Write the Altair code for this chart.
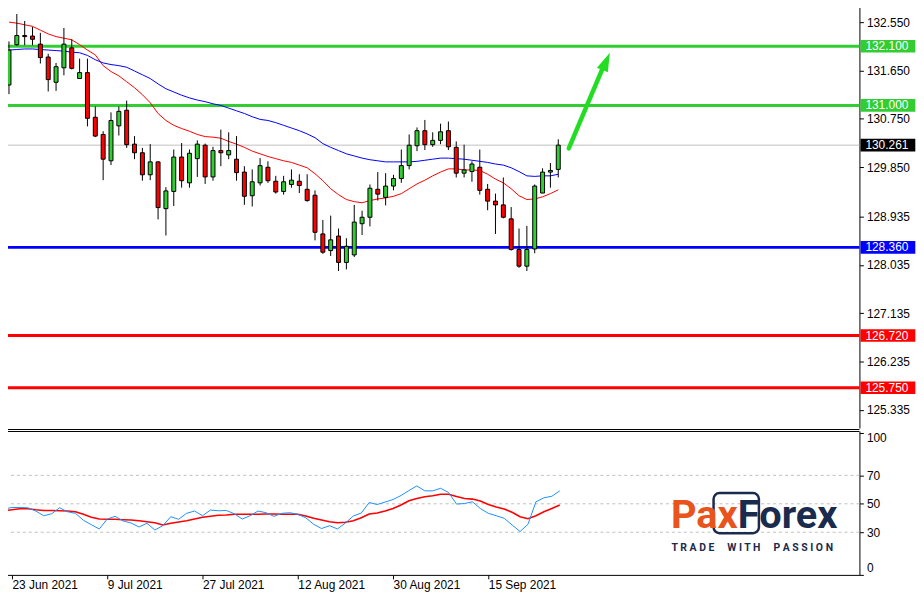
import altair as alt
import pandas as pd

# ---------------- data ----------------
open_ = [131.38, 132.13, 132.30, 132.29, 132.14, 131.90, 131.43, 131.70, 132.07, 131.50,
         131.61, 130.78, 130.46, 129.97, 130.62, 130.91, 130.28, 130.12, 129.71, 129.95,
         129.08, 129.40, 130.04, 129.56, 130.01, 130.26, 129.67, 130.16, 130.08, 130.00,
         129.76, 129.32, 129.56, 129.85, 129.59, 129.40, 129.53, 129.59, 129.44, 129.33,
         128.61, 128.30, 128.57, 128.08, 128.22, 128.80, 128.92, 129.44, 129.29, 129.50,
         129.64, 129.88, 130.25, 130.53, 130.27, 130.35, 130.53, 130.22, 129.74, 129.77,
         129.85, 129.44, 129.22, 129.15, 128.89, 128.32, 128.01, 128.33, 129.37, 129.76,
         129.81]
high = [132.19, 132.70, 132.57, 132.46, 132.35, 131.96, 131.79, 132.44, 132.23, 131.87,
        131.87, 130.98, 130.52, 130.87, 130.98, 131.09, 130.43, 130.21, 130.28, 129.96,
        129.48, 130.18, 130.30, 130.18, 130.35, 130.29, 130.23, 130.55, 130.50, 130.43,
        129.87, 129.81, 130.02, 129.96, 129.69, 129.69, 129.81, 129.72, 129.72, 129.42,
        128.87, 128.95, 128.71, 128.53, 129.15, 129.04, 129.53, 129.76, 129.74, 129.71,
        130.18, 130.46, 130.59, 130.73, 130.50, 130.66, 130.70, 130.33, 130.27, 129.96,
        130.18, 129.54, 129.36, 129.66, 129.11, 128.71, 128.76, 129.53, 129.83, 129.93,
        130.37]
low = [131.21, 132.11, 132.12, 132.12, 131.78, 131.26, 131.27, 131.56, 131.67, 131.50,
       130.61, 130.41, 129.61, 129.89, 130.44, 130.21, 130.00, 129.60, 129.61, 128.88,
       128.58, 129.13, 129.47, 129.47, 129.67, 129.54, 129.60, 129.87, 130.00, 129.60,
       129.15, 129.12, 129.51, 129.56, 129.36, 129.34, 129.47, 129.37, 129.21, 128.49,
       128.24, 128.20, 127.92, 127.95, 128.18, 128.59, 128.75, 129.23, 129.14, 129.42,
       129.56, 129.81, 130.15, 130.17, 130.23, 130.28, 130.17, 129.66, 129.66, 129.58,
       129.34, 129.05, 128.61, 128.90, 128.30, 127.98, 127.92, 128.25, 129.37, 129.47,
       129.66]
close = [132.03, 132.30, 132.28, 132.23, 131.89, 131.48, 131.72, 132.14, 131.69, 131.61,
         130.76, 130.43, 130.00, 130.72, 130.89, 130.27, 130.12, 129.71, 129.95, 129.10,
         129.41, 130.04, 129.60, 130.11, 130.28, 129.67, 130.16, 130.12, 130.16, 129.75,
         129.31, 129.58, 129.88, 129.60, 129.39, 129.58, 129.61, 129.51, 129.23, 128.64,
         128.27, 128.50, 128.08, 128.38, 128.83, 128.92, 129.46, 129.35, 129.50, 129.64,
         129.88, 130.26, 130.53, 130.27, 130.35, 130.51, 130.23, 129.74, 129.80, 129.91,
         129.42, 129.22, 129.15, 128.92, 128.32, 128.01, 128.32, 129.50, 129.76, 129.79,
         130.261]
ma_fast = [132.55, 132.53, 132.50, 132.47, 132.40, 132.33, 132.28, 132.25, 132.22, 132.13,
           132.03, 131.94, 131.74, 131.63, 131.55, 131.44, 131.33, 131.20, 131.05, 130.85,
           130.72, 130.63, 130.57, 130.52, 130.46, 130.42, 130.41, 130.39, 130.33, 130.28,
           130.22, 130.15, 130.10, 130.05, 130.01, 129.97, 129.94, 129.89, 129.84, 129.73,
           129.60, 129.45, 129.34, 129.25, 129.21, 129.19, 129.23, 129.26, 129.28, 129.31,
           129.36, 129.45, 129.54, 129.61, 129.69, 129.76, 129.82, 129.82, 129.80, 129.80,
           129.79, 129.72, 129.63, 129.56, 129.45, 129.32, 129.25, 129.26, 129.30, 129.36,
           129.43]
ma_slow = [132.03, 132.04, 132.05, 132.05, 132.04, 132.03, 132.02, 132.01, 131.99, 131.98,
           131.93, 131.85, 131.79, 131.76, 131.74, 131.71, 131.64, 131.57, 131.50, 131.40,
           131.31, 131.25, 131.19, 131.14, 131.10, 131.07, 131.03, 131.00, 130.95, 130.90,
           130.85, 130.79, 130.74, 130.72, 130.68, 130.63, 130.58, 130.53, 130.47, 130.40,
           130.29, 130.22, 130.16, 130.10, 130.06, 130.02, 129.99, 129.97, 129.95, 129.95,
           129.95, 129.95, 129.96, 129.98, 130.00, 130.02, 130.02, 130.01, 130.00, 129.98,
           129.96, 129.94, 129.91, 129.89, 129.84, 129.77, 129.69, 129.68, 129.69, 129.69,
           129.72]
osc_main = [46.3, 47.4, 47.4, 47.2, 44.9, 41.6, 43.0, 47.2, 44.4, 43.3,
            38.4, 35.3, 32.3, 39.3, 41.2, 37.9, 36.5, 33.7, 36.3, 31.6,
            34.6, 40.9, 39.1, 43.3, 44.9, 41.6, 45.6, 45.1, 45.3, 43.0,
            39.3, 41.6, 44.9, 43.7, 41.2, 43.3, 43.7, 42.6, 40.2, 35.6,
            32.6, 34.6, 32.3, 36.5, 41.4, 43.5, 50.9, 49.5, 51.2, 53.0,
            55.8, 59.3, 62.6, 59.1, 59.1, 60.9, 57.9, 49.8, 50.2, 51.4,
            46.7, 43.3, 41.6, 39.8, 35.1, 30.5, 35.6, 51.4, 54.2, 55.3,
            59.1]
osc_signal = [45.1, 45.8, 46.5, 46.5, 45.8, 45.3, 45.3, 45.1, 44.9, 44.4,
              42.6, 40.5, 39.3, 39.1, 39.1, 38.8, 38.6, 38.1, 37.4, 36.7,
              35.1, 36.3, 37.2, 38.1, 39.3, 40.5, 41.2, 41.9, 42.1, 42.6,
              42.6, 42.6, 42.6, 42.8, 42.8, 42.6, 42.6, 42.6, 41.4, 39.8,
              38.6, 37.4, 36.7, 37.0, 38.1, 40.2, 42.8, 43.5, 44.9, 46.7,
              49.1, 52.1, 53.7, 54.9, 55.6, 56.7, 56.7, 55.1, 53.7, 53.3,
              51.9, 49.5, 47.7, 46.3, 44.0, 40.9, 39.5, 41.6, 44.4, 46.7,
              49.1]

date_bars = [1, 13, 25, 37, 49, 61]
date_labels = ["23 Jun 2021", "9 Jul 2021", "27 Jul 2021", "12 Aug 2021", "30 Aug 2021", "15 Sep 2021"]
price_ticks = [132.55, 131.65, 130.75, 129.85, 128.935, 128.035, 127.135, 126.235, 125.335]
level_prices = [132.10, 131.00, 128.36, 126.72, 125.75]
level_colors = ["#32CD32", "#32CD32", "#0000FF", "#FF0000", "#FF0000"]
last_price = 130.261
arrow_bars = [71.34, 75.8]
arrow_prices = [130.20, 131.74]
arrow_head_bar = 76.1
arrow_head_price = 131.82
osc_ticks = [0, 30, 50, 70, 100]
osc_grid = [30, 50, 70]
logo_words = ["Pax", "Forex"]
tagline = "TRADE WITH PASSION"

# ---------------- tables ----------------
bars = list(range(len(open_)))
candles = pd.DataFrame({"bar": bars, "open": open_, "high": high, "low": low, "close": close})
mas = pd.DataFrame({"bar": bars * 2, "value": ma_fast + ma_slow,
                    "series": ["fast"] * len(bars) + ["slow"] * len(bars),
                    "color": ["#FF0000"] * len(bars) + ["#0000FF"] * len(bars)})
levels = pd.DataFrame({"price": level_prices + [last_price],
                       "color": level_colors + ["#000000"],
                       "label": [f"{p:.3f}" for p in level_prices] + [f"{last_price:.3f}"]})
arrow = pd.DataFrame({"b1": [arrow_bars[0]], "p1": [arrow_prices[0]],
                      "b2": [arrow_bars[1]], "p2": [arrow_prices[1]]})
arrow_head = pd.DataFrame({"bar": [arrow_head_bar], "price": [arrow_head_price]})
osc1 = pd.DataFrame({"bar": bars, "value": osc_main})
osc2 = pd.DataFrame({"bar": bars, "value": osc_signal})
grid = pd.DataFrame({"v": osc_grid})

W = 863
MAIN_H = 429
LOW_H = 145
FONT = "Liberation Sans"
X_DOMAIN = [-0.125, 107.75]

x_scale = alt.Scale(domain=X_DOMAIN, nice=False, zero=False)
x_main = alt.X("bar:Q", scale=x_scale, axis=None)
y_main_scale = alt.Scale(domain=[125.0, 132.918], nice=False, zero=False)
y_axis_main = alt.Axis(orient="right", values=price_ticks, format=".3f", title=None, grid=False,
                       domainColor="black", tickColor="black", tickSize=4, labelPadding=3,
                       labelColor="black", labelFont=FONT, labelFontSize=12, labelOverlap=False,
                       labelFlush=False)

base_c = alt.Chart(candles)
wicks = base_c.mark_rule(color="black", strokeWidth=1).encode(
    x=x_main,
    y=alt.Y("low:Q", scale=y_main_scale, axis=y_axis_main),
    y2="high:Q",
)
bodies = base_c.mark_bar(size=4, stroke="black", strokeWidth=1).encode(
    x=x_main,
    y=alt.Y("open:Q", scale=y_main_scale, axis=y_axis_main),
    y2="close:Q",
    fill=alt.condition("datum.close >= datum.open", alt.value("#32CD32"), alt.value("#FF0000")),
)
level_lines = alt.Chart(levels.iloc[:-1]).mark_rule(strokeWidth=3).encode(
    y=alt.Y("price:Q", scale=y_main_scale, axis=y_axis_main),
    color=alt.Color("color:N", scale=None),
)
last_line = alt.Chart(levels.iloc[-1:]).mark_rule(strokeWidth=1, color="#C0C0C0").encode(
    y=alt.Y("price:Q", scale=y_main_scale, axis=y_axis_main),
)
ma_lines = alt.Chart(mas).mark_line(strokeWidth=1).encode(
    x=x_main,
    y=alt.Y("value:Q", scale=y_main_scale, axis=y_axis_main),
    color=alt.Color("color:N", scale=None),
    detail="series:N",
)
arrow_line = alt.Chart(arrow).mark_rule(strokeWidth=4.5, strokeCap="round", color="#22DD22").encode(
    x=alt.X("b1:Q", scale=x_scale, axis=None),
    x2="b2:Q",
    y=alt.Y("p1:Q", scale=y_main_scale, axis=y_axis_main),
    y2="p2:Q",
)
arrow_tip = alt.Chart(arrow_head).mark_point(
    shape="M0,-1L0.63,1L-0.63,1Z", size=361, filled=True, opacity=1, color="#22DD22", angle=23.3
).encode(
    x=x_main,
    y=alt.Y("price:Q", scale=y_main_scale, axis=y_axis_main),
)
label_boxes = alt.Chart(levels).mark_point(
    shape="M-1,-0.23L1,-0.23L1,0.23L-1,0.23Z", size=3047, filled=True, opacity=1, strokeWidth=0
).encode(
    x=alt.value(891.7),
    y=alt.Y("price:Q", scale=y_main_scale, axis=y_axis_main),
    color=alt.Color("color:N", scale=None),
)
label_text = alt.Chart(levels).mark_text(
    align="left", baseline="middle", color="white", font=FONT, fontSize=12
).encode(
    x=alt.value(869),
    y=alt.Y("price:Q", scale=y_main_scale, axis=y_axis_main),
    text="label:N",
)
main_border = alt.Chart(levels.iloc[:1]).mark_rule(color="black", strokeWidth=1).encode(
    x=alt.value(0), x2=alt.value(W), y=alt.value(430.5)
)

main = alt.layer(
    level_lines, last_line, ma_lines, wicks, bodies, arrow_line, arrow_tip,
    label_boxes, label_text, main_border
).properties(width=W, height=MAIN_H)

# ---------------- lower oscillator panel ----------------
label_expr = "".join(f"datum.value == {b} ? '{l}' : " for b, l in zip(date_bars, date_labels)) + "''"
x_low = alt.X("bar:Q", scale=x_scale,
              axis=alt.Axis(values=date_bars, labelExpr=label_expr, title=None, grid=False,
                            domainColor="black", tickColor="black", tickSize=4, labelPadding=1,
                            labelAlign="left", labelColor="black", labelFont=FONT, labelFontSize=12,
                            labelOverlap=False, labelFlush=False))
y_low_scale = alt.Scale(domain=[0, 101.2], nice=False, zero=False)
y_low_axis = alt.Axis(orient="right", values=osc_ticks, title=None, grid=False,
                      domainColor="black", tickColor="black", tickSize=4, labelPadding=3,
                      labelColor="black", labelFont=FONT, labelFontSize=12, labelOverlap=False,
                      labelFlush=False,
                      labelBaseline={"condition": [{"test": "datum.value == 100", "value": "top"},
                                                   {"test": "datum.value == 0", "value": "bottom"}],
                                     "value": "middle"})

grid_rules = alt.Chart(grid).mark_rule(color="#C0C0C0", strokeWidth=1, strokeDash=[3, 3]).encode(
    y=alt.Y("v:Q", scale=y_low_scale, axis=y_low_axis)
)
osc_signal_line = alt.Chart(osc2).mark_line(color="#FF0000", strokeWidth=1.6).encode(
    x=x_low,
    y=alt.Y("value:Q", scale=y_low_scale, axis=y_low_axis),
)
osc_main_line = alt.Chart(osc1).mark_line(color="#1E90FF", strokeWidth=1).encode(
    x=x_low,
    y=alt.Y("value:Q", scale=y_low_scale, axis=y_low_axis),
)
top_border = alt.Chart(grid.iloc[:1]).mark_rule(color="black", strokeWidth=1).encode(
    x=alt.value(0), x2=alt.value(W), y=alt.value(0.5)
)

logo_df = pd.DataFrame({"word": logo_words})
NBSP = "\u00a0"
spaced_tag = (" " + NBSP * 4).join(" ".join(w) for w in tagline.split())
tag_df = pd.DataFrame({"t": [spaced_tag]})

logo_box = alt.Chart(tag_df).mark_rect(
    fillOpacity=0, stroke="#1B2B4E", strokeWidth=2.5, cornerRadius=6
).encode(x=alt.value(716), x2=alt.value(761.7), y=alt.value(62.5), y2=alt.value(103))
logo_pax = alt.Chart(logo_df.iloc[:1]).mark_text(
    align="left", baseline="alphabetic", font="Roboto", fontSize=40, fontWeight="bold", color="#E8541C"
).encode(x=alt.value(673), y=alt.value(97.3), text="word:N")
logo_forex = alt.Chart(logo_df.iloc[1:]).mark_text(
    align="left", baseline="alphabetic", font="Roboto", fontSize=40, fontWeight="bold", color="#1B2B4E"
).encode(x=alt.value(740.5), y=alt.value(97.3), text="word:N")
logo_tag = alt.Chart(tag_df).mark_text(
    align="center", baseline="middle", font="Roboto", fontSize=10.5, fontWeight="bold", color="#1B2B4E"
).encode(x=alt.value(755), y=alt.value(118), text="t:N")

lower = alt.layer(
    grid_rules, osc_signal_line, osc_main_line, top_border, logo_box, logo_pax, logo_forex, logo_tag
).properties(width=W, height=LOW_H)

chart = alt.vconcat(main, lower, spacing=3, bounds="flush").properties(
    padding={"left": -8, "top": -8, "right": 0, "bottom": 0},
    background="white",
).configure_view(stroke=None)

chart.save("out.html", embed_options={"renderer": "svg", "actions": False})
